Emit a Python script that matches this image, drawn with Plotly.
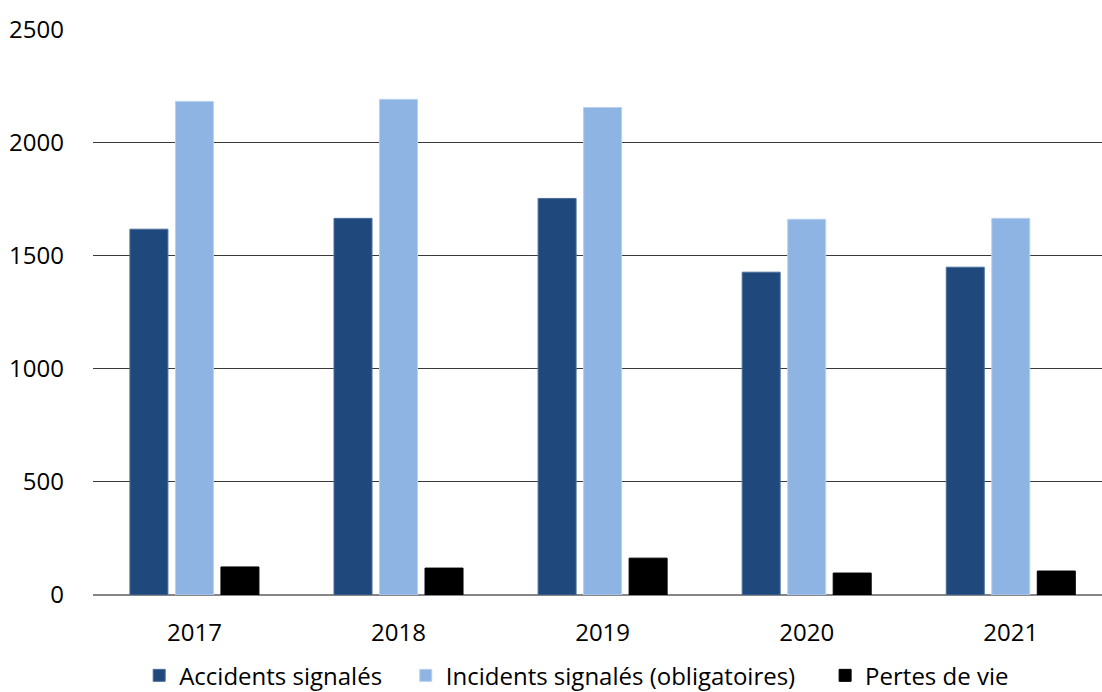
import plotly.graph_objects as go

years = ["2017", "2018", "2019", "2020", "2021"]
accidents = [1617, 1665, 1753, 1427, 1449]
incidents = [2182, 2191, 2155, 1661, 1665]
pertes = [124, 119, 163, 97, 106]

FONT = "Open Sans"
PAD = "\u00a0"

fig = go.Figure()
fig.add_trace(go.Bar(x=years, y=accidents, name="Accidents signalés" + PAD * 3,
                     marker=dict(color="#1F497D", line=dict(color="#4A6E9A", width=1))))
fig.add_trace(go.Bar(x=years, y=incidents, name="Incidents signalés (obligatoires)" + PAD * 4,
                     marker=dict(color="#8EB4E3", line=dict(color="#B8D0EE", width=1))))
fig.add_trace(go.Bar(x=years, y=pertes, name="Pertes de vie",
                     marker=dict(color="#000000", line=dict(color="#000000", width=1))))

fig.update_layout(
    width=1102, height=692,
    margin=dict(l=93, r=0, t=29, b=97),
    paper_bgcolor="white", plot_bgcolor="white",
    barmode="group", bargap=0.331, bargroupgap=0.165,
    font=dict(family=FONT, size=24, color="#000000"),
    showlegend=True,
    legend=dict(orientation="h", x=0.5233, xref="container", xanchor="center",
                y=0.056, yref="container", yanchor="top",
                font=dict(family=FONT, size=24, color="#000000"),
                itemwidth=30, tracegroupgap=0, traceorder="normal"),
    xaxis=dict(type="category", range=[-0.497, 4.447], showgrid=False, ticks="",
               showline=False, tickfont=dict(size=24), ticklabelstandoff=21),
    yaxis=dict(range=[0, 2502], tickvals=[0, 500, 1000, 1500, 2000, 2500],
               showgrid=True, gridcolor="#3a3a3a", gridwidth=1,
               zeroline=True, zerolinecolor="#868686", zerolinewidth=1.5,
               showline=False, ticks="", tickfont=dict(size=24), ticklabelstandoff=28),
)

fig.write_html("out.html")
